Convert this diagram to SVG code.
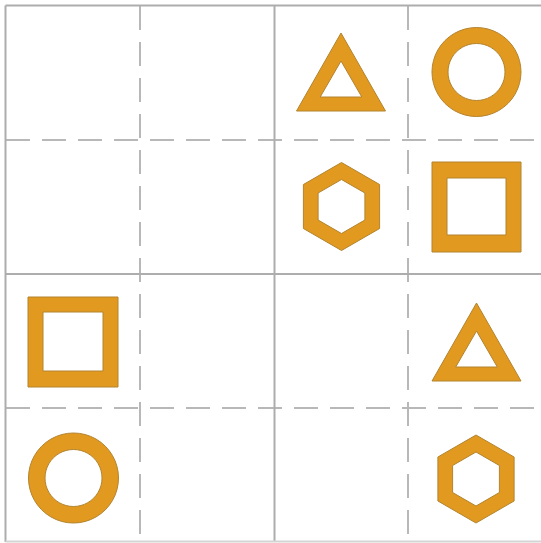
<svg xmlns="http://www.w3.org/2000/svg" width="541" height="543" viewBox="0 0 541 543">
<style>
.solid{stroke:#adadad;stroke-width:2;fill:none}
.dash{stroke:#b8b8b8;stroke-width:2;fill:none;stroke-dasharray:24 12}
.shape{fill:#E2991F;fill-rule:evenodd;stroke:#B3842F;stroke-width:1}
</style>
<rect width="541" height="543" fill="#ffffff"/>
<g id="grid">
<line class="dash" x1="140" y1="6" x2="140" y2="542"/>
<line class="dash" x1="408" y1="6" x2="408" y2="542"/>
<line class="dash" x1="6" y1="140" x2="541" y2="140"/>
<line class="dash" x1="6" y1="408" x2="541" y2="408"/>
<line class="solid" x1="274.5" y1="6" x2="274.5" y2="542"/>
<line class="solid" x1="6" y1="274" x2="541" y2="274"/>
<line class="solid" x1="5.5" y1="5.5" x2="541" y2="5.5"/>
<line class="solid" x1="5.5" y1="5.5" x2="5.5" y2="542"/>
<line class="solid" x1="5.5" y1="541.5" x2="541" y2="541.5" style="stroke:#d4d4d4"/>
</g>
<g id="triangle1"><path class="shape" d="M341,33 L385.5,111 L296.5,111 Z M341,61 L320.2,97 L361.8,97 Z"/></g>
<g id="circle1"><path class="shape" d="M476.5,27.5 A44.5,44.5 0 1 1 476.49,27.5 Z M476.5,43.5 A28.5,28.5 0 1 0 476.51,43.5 Z"/></g>
<g id="hexagon1"><path class="shape" d="M341.5,162.5 L379.6,184.5 L379.6,228.5 L341.5,250.5 L303.4,228.5 L303.4,184.5 Z M341.5,179.5 L364.9,193 L364.9,220 L341.5,233.5 L318.1,220 L318.1,193 Z"/></g>
<g id="square1"><path class="shape" d="M432,162 H521 V252 H432 Z M447,178 V235 H506 V178 Z"/></g>
<g id="square2"><path class="shape" d="M28,297 H118 V387 H28 Z M43,312 V371 H103 V312 Z"/></g>
<g id="triangle2"><path class="shape" d="M476.5,303 L521,381 L432,381 Z M476.5,331 L455.7,367 L497.3,367 Z"/></g>
<g id="circle2"><path class="shape" d="M73.5,433 A45,45 0 1 1 73.49,433 Z M73.5,449.5 A28.5,28.5 0 1 0 73.51,449.5 Z"/></g>
<g id="hexagon2"><path class="shape" d="M476,435 L514.1,457 L514.1,501 L476,523 L437.9,501 L437.9,457 Z M476,452 L499.4,465.5 L499.4,492.5 L476,506 L452.6,492.5 L452.6,465.5 Z"/></g>
</svg>
